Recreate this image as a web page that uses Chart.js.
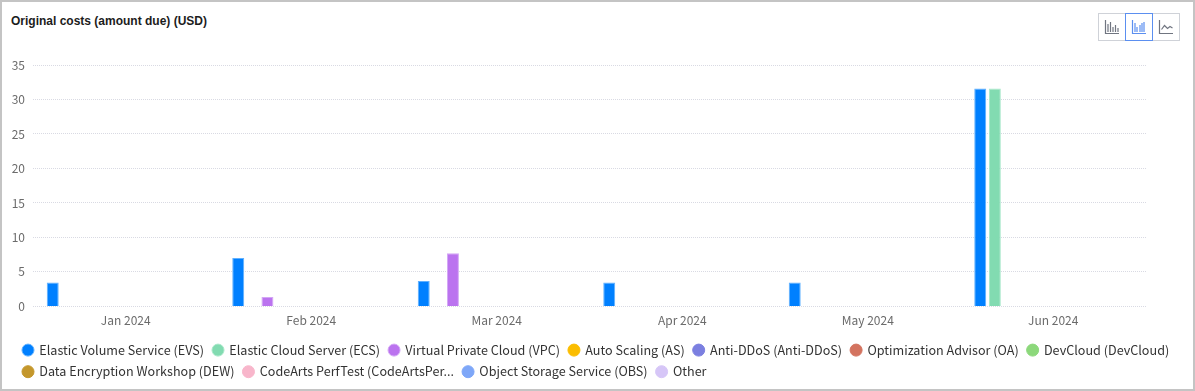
<!DOCTYPE html>
<html>
<head>
<meta charset="utf-8">
<script src="https://cdn.jsdelivr.net/npm/chart.js@4.4.1/dist/chart.umd.min.js"></script>
<style>
    body { margin: 0; background: #fff; }
    #cartao {
        position: relative;
        width: 1195px;
        height: 391px;
        box-sizing: border-box;
        border: 2px solid #c4c4c4;
        background: #fff;
    }
    #titulo {
        position: absolute;
        left: 9px;
        top: 12px;
        font: bold 12px "Liberation Sans", Arial, sans-serif;
        color: #1c1c1c;
    }
    #botoes {
        position: absolute;
        left: 1097px;
        top: 11px;
        display: flex;
    }
    .botao {
        width: 26px;
        height: 26px;
        border: 1px solid #cfd2d8;
        margin-left: -1px;
        display: flex;
        align-items: center;
        justify-content: center;
        background: #fff;
    }
    .botao.ativo { border-color: #5b8ff0; position: relative; z-index: 1; }
    #area {
        position: absolute;
        left: 0;
        top: 46px;
        width: 1191px;
        height: 340px;
    }
</style>
</head>
<body>
<div id="cartao">
    <div id="titulo">Original costs (amount due) (USD)</div>
    <div id="botoes">
        <div class="botao">
            <svg width="16" height="16" viewBox="0 0 16 16" fill="none" stroke="#707580" stroke-width="1.2">
                <path d="M1.5 1v13.5H15"/>
                <path d="M4 13V5M6.5 13V3M9 13V8M11.5 13V6M14 13V9"/>
            </svg>
        </div>
        <div class="botao ativo">
            <svg width="16" height="16" viewBox="0 0 16 16" fill="none" stroke="#5b8ff0" stroke-width="1.2">
                <path d="M1.5 1v13.5H15"/>
                <path d="M4 13V4M6 13V8M9 13V6M11 13V4M13 13V3"/>
            </svg>
        </div>
        <div class="botao">
            <svg width="16" height="16" viewBox="0 0 16 16" fill="none" stroke="#707580" stroke-width="1.2">
                <path d="M1.5 1v13.5H15"/>
                <path d="M3.5 10.5l3-4 3 3 2.5-2 2.5 1.5"/>
            </svg>
        </div>
    </div>
    <div id="area"><canvas id="grafico"></canvas></div>
</div>

<script>
const meses = ["Jan 2024", "Feb 2024", "Mar 2024", "Apr 2024", "May 2024", "Jun 2024"];

const servicos = [
    "Elastic Volume Service (EVS)",
    "Elastic Cloud Server (ECS)",
    "Virtual Private Cloud (VPC)",
    "Auto Scaling (AS)",
    "Anti-DDoS (Anti-DDoS)",
    "Optimization Advisor (OA)",
    "DevCloud (DevCloud)",
    "Data Encryption Workshop (DEW)",
    "CodeArts PerfTest (CodeArtsPer...",
    "Object Storage Service (OBS)",
    "Other"
];

const cores = ["#0080ff", "#82dbb1", "#bb73ef", "#fbbd00", "#7b7fe0", "#d3735f", "#8cd87b", "#c4972c", "#f8b6cb", "#7ea7f8", "#d6c6f7"];
const bordas = ["#5fb0ff", "#a8e8c9", "#d3a6f5", "#fbbd00", "#7b7fe0", "#d3735f", "#8cd87b", "#c4972c", "#f8b6cb", "#7ea7f8", "#d6c6f7"];

const custoEvs = [3.45, 7.0, 3.7, 3.45, 3.45, 31.6];
const custoEcs = [null, null, null, null, null, 31.6];
const custoVpc = [null, 1.35, 7.7, null, null, null];
const custoAs = [null, null, null, null, null, null];
const custoAntiDdos = [null, null, null, null, null, null];
const custoOa = [null, null, null, null, null, null];
const custoDevCloud = [null, null, null, null, null, null];
const custoDew = [null, null, null, null, null, null];
const custoPerfTest = [null, null, null, null, null, null];
const custoObs = [null, null, null, null, null, null];
const custoOutros = [null, null, null, null, null, null];

const valores = [custoEvs, custoEcs, custoVpc, custoAs, custoAntiDdos, custoOa, custoDevCloud, custoDew, custoPerfTest, custoObs, custoOutros];

const marcasY = [0, 5, 10, 15, 20, 25, 30, 35];

const fonteYahei = "'Noto Sans CJK SC', 'Liberation Sans', sans-serif";

// a legenda começa mais para dentro que o eixo Y
const recuoDaLegenda = {
    id: "recuoDaLegenda",
    afterLayout(chart) {
        chart.legend.left += 12;
    }
};

window.onload = criarGrafico;

function criarGrafico() {
    const ctx = document.querySelector("#grafico");

    return new Chart(ctx, {
        type: "bar",
        plugins: [recuoDaLegenda],
        data: {
            labels: meses,
            datasets: servicos.map((nome, i) => ({
                label: nome,
                data: valores[i],
                backgroundColor: cores[i],
                borderColor: bordas[i],
                borderWidth: 1,
                borderSkipped: "bottom",
                categoryPercentage: 0.866,
                barPercentage: 0.82
            }))
        },
        options: {
            responsive: true,
            maintainAspectRatio: false,
            animation: false,
            layout: {
                padding: { left: 0, right: 0, top: 17, bottom: 0 }
            },
            plugins: {
                tooltip: { enabled: false },
                legend: {
                    position: "bottom",
                    align: "start",
                    labels: {
                        usePointStyle: true,
                        pointStyle: "circle",
                        boxWidth: 10,
                        boxHeight: 8.5,
                        padding: 9,
                        color: "#333",
                        font: { family: fonteYahei, size: 12.6 }
                    }
                }
            },
            scales: {
                x: {
                    grid: { display: false, drawTicks: false },
                    border: { display: false },
                    ticks: {
                        color: "#6b6b6b",
                        padding: 7,
                        font: { family: fonteYahei, size: 12 }
                    }
                },
                y: {
                    min: 0,
                    max: 35,
                    afterFit: (escala) => { escala.width = 31; },
                    afterBuildTicks: (escala) => { escala.ticks = marcasY.map(v => ({ value: v })); },
                    grid: {
                        color: "#d9dae3",
                        drawTicks: false
                    },
                    border: { display: false, dash: [1, 1] },
                    ticks: {
                        color: "#6b6b6b",
                        padding: 8,
                        font: { family: fonteYahei, size: 12 }
                    }
                },
                // eixo vazio só para reservar a margem da direita
                margemDireita: {
                    position: "right",
                    grid: { display: false, drawTicks: false },
                    border: { display: false },
                    ticks: { display: false },
                    afterFit: (escala) => { escala.width = 47; }
                }
            }
        }
    });
}
</script>
</body>
</html>
